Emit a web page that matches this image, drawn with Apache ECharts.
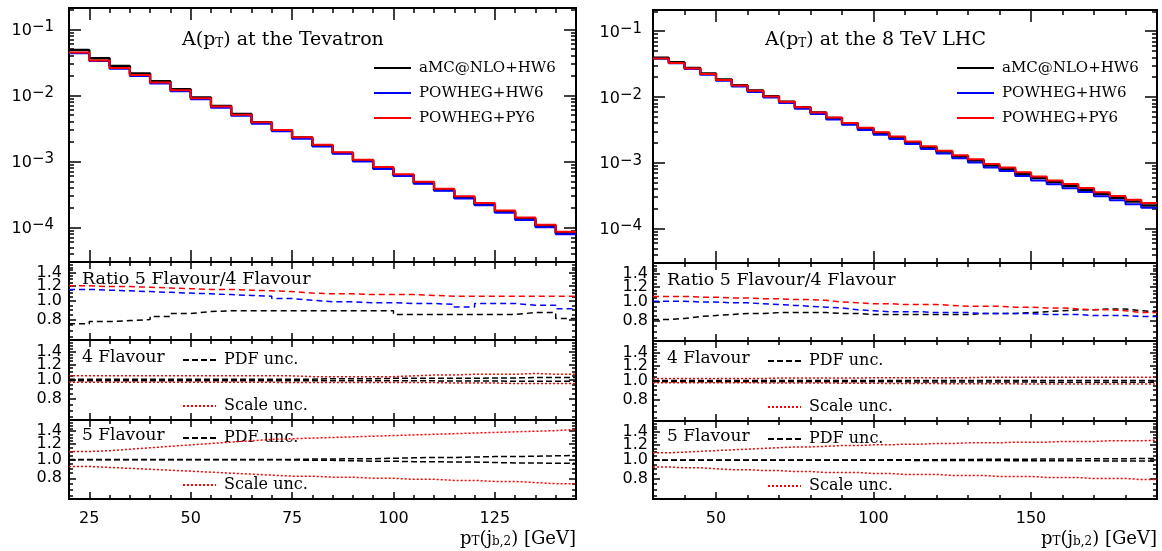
<!DOCTYPE html>
<html><head><meta charset="utf-8">
<script src="https://cdn.jsdelivr.net/npm/echarts@6/dist/echarts.min.js"></script>
<style>html,body{margin:0;padding:0;background:#fff}#c{width:1162px;height:551px}</style>
</head><body><div id="c"></div>
<script>
// ---------------- data ----------------
const tevEdges = [20,25,30,35,40,45,50,55,60,65,70,75,80,85,90,95,100,105,110,115,120,125,130,135,140,145];
const lhcEdges = [30,35,40,45,50,55,60,65,70,75,80,85,90,95,100,105,110,115,120,125,130,135,140,145,150,155,160,165,170,175,180,185,190];

const tevXMajor = [25,50,75,100,125];
const tevXMinor = [20,25,30,35,40,45,50,55,60,65,70,75,80,85,90,95,100,105,110,115,120,125,130,135,140,145];
const lhcXMajor = [50,100,150];
const lhcXMinor = [30,40,50,60,70,80,90,100,110,120,130,140,150,160,170,180,190];
const mainYMajor = [1e-4,1e-3,1e-2,1e-1];
const mainYMinor = [4e-5,5e-5,6e-5,7e-5,8e-5,9e-5,2e-4,3e-4,4e-4,5e-4,6e-4,7e-4,8e-4,9e-4,2e-3,3e-3,4e-3,5e-3,6e-3,7e-3,8e-3,9e-3,2e-2,3e-2,4e-2,5e-2,6e-2,7e-2,8e-2,9e-2,2e-1];
const ratioYMajor = [0.8,1.0,1.2,1.4];
const ratioLabelsA = [1.0,1.4];
const ratioLabelsB = [0.8,1.2];
const ratioYMinor = [0.65,0.7,0.75,0.85,0.9,0.95,1.05,1.1,1.15,1.25,1.3,1.35,1.45,1.5,1.55];

// Tevatron A(pT)
const tevAMC   = [0.0485,0.0363,0.0277,0.0215,0.0164,0.0124,0.0093,0.0069,0.0052,0.0039,0.00297,0.0023,0.00174,0.00134,0.00103,0.00079,0.000615,0.00047,0.000368,0.000282,0.000223,0.000173,0.000135,0.000105,0.000083];
const tevPwgHW = [0.0435,0.033,0.0253,0.0197,0.0151,0.0115,0.0087,0.0065,0.0049,0.0037,0.00285,0.0022,0.00168,0.0013,0.001,0.00077,0.0006,0.00046,0.00036,0.000275,0.000217,0.000167,0.00013,0.000101,0.000079];
const tevPwgPY = [0.0445,0.0337,0.026,0.0203,0.0156,0.0119,0.009,0.0068,0.0051,0.0039,0.003,0.00233,0.00178,0.00137,0.00106,0.00082,0.00064,0.00049,0.000385,0.000297,0.000235,0.000181,0.000141,0.00011,0.000086];
// Tevatron ratio 5F/4F
const tevRatioAMC = [0.76,0.78,0.79,0.80,0.83,0.86,0.88,0.89,0.89,0.89,0.89,0.89,0.89,0.89,0.89,0.89,0.85,0.85,0.85,0.85,0.85,0.85,0.87,0.87,0.81];
const tevRatioHW  = [1.15,1.14,1.13,1.12,1.11,1.10,1.09,1.08,1.07,1.06,1.03,1.01,0.99,0.99,0.98,0.98,0.97,0.97,0.96,0.93,0.97,0.97,0.95,0.95,0.91];
const tevRatioPY  = [1.20,1.19,1.19,1.18,1.17,1.16,1.15,1.15,1.14,1.13,1.12,1.10,1.09,1.09,1.08,1.08,1.08,1.07,1.06,1.06,1.06,1.06,1.06,1.06,1.06];
// Tevatron 4 flavour uncertainties
const tev4PdfUp   = [1.01,1.01,1.01,1.01,1.01,1.01,1.01,1.01,1.01,1.01,1.01,1.01,1.015,1.015,1.015,1.02,1.02,1.02,1.02,1.02,1.025,1.025,1.03,1.03,1.03];
const tev4PdfDn   = [0.992,0.992,0.992,0.992,0.992,0.992,0.992,0.992,0.992,0.992,0.99,0.99,0.99,0.99,0.99,0.99,0.99,0.99,0.988,0.988,0.988,0.986,0.986,0.985,0.985];
const tev4ScaleUp = [1.05,1.05,1.05,1.05,1.05,1.05,1.05,1.05,1.05,1.05,1.05,1.04,1.04,1.04,1.04,1.04,1.05,1.06,1.06,1.07,1.07,1.07,1.08,1.07,1.07];
const tev4ScaleDn = [0.973,0.973,0.973,0.973,0.973,0.973,0.973,0.973,0.973,0.973,0.97,0.97,0.97,0.97,0.97,0.97,0.97,0.97,0.965,0.965,0.965,0.96,0.96,0.96,0.96];
// Tevatron 5 flavour uncertainties
const tev5PdfUp   = [1.0,1.0,1.0,1.0,1.0,1.0,1.0,1.0,1.0,1.0,1.0,1.005,1.005,1.01,1.01,1.015,1.02,1.025,1.025,1.03,1.035,1.035,1.04,1.045,1.05];
const tev5PdfDn   = [0.998,0.998,0.998,0.998,0.998,0.998,0.998,0.998,0.998,0.998,0.995,0.99,0.99,0.985,0.98,0.98,0.975,0.975,0.97,0.97,0.965,0.96,0.96,0.955,0.955];
const tev5ScaleUp = [1.10,1.11,1.13,1.15,1.17,1.19,1.21,1.23,1.25,1.27,1.28,1.29,1.30,1.31,1.32,1.33,1.34,1.35,1.36,1.37,1.38,1.39,1.40,1.41,1.43];
const tev5ScaleDn = [0.92,0.91,0.90,0.89,0.88,0.87,0.86,0.85,0.84,0.83,0.82,0.82,0.81,0.81,0.80,0.80,0.79,0.79,0.78,0.78,0.77,0.77,0.76,0.75,0.75];

// LHC 8 TeV A(pT)
const lhcAMC   = [0.0394,0.0338,0.0277,0.0227,0.0184,0.0151,0.0125,0.01025,0.0085,0.00697,0.00579,0.00481,0.00398,0.00334,0.00284,0.00244,0.00205,0.00172,0.00148,0.00125,0.00108,0.000913,0.000804,0.000682,0.000586,0.00051,0.000448,0.00039,0.000335,0.000294,0.000258,0.000225];
const lhcPwgHW = [0.038,0.0325,0.0266,0.0218,0.0176,0.0144,0.0119,0.0098,0.0081,0.00665,0.00551,0.00457,0.00378,0.00316,0.00268,0.0023,0.00193,0.00162,0.00139,0.00117,0.00101,0.00085,0.00075,0.00063,0.00054,0.00047,0.00041,0.00036,0.00031,0.00027,0.000235,0.000208];
const lhcPwgPY = [0.0385,0.033,0.0271,0.0223,0.0181,0.0149,0.0124,0.0102,0.0085,0.0070,0.00583,0.00486,0.00404,0.0034,0.0029,0.0025,0.00211,0.00178,0.00153,0.0013,0.00113,0.00096,0.00085,0.00072,0.00062,0.00054,0.000475,0.000415,0.000357,0.000313,0.000275,0.000245];
// LHC ratio 5F/4F
const lhcRatioAMC = [0.81,0.82,0.84,0.85,0.86,0.87,0.87,0.88,0.88,0.88,0.88,0.87,0.87,0.86,0.86,0.86,0.86,0.86,0.86,0.86,0.87,0.87,0.87,0.88,0.89,0.90,0.91,0.91,0.92,0.92,0.90,0.89];
const lhcRatioHW  = [1.01,1.01,1.00,1.00,0.99,0.99,0.98,0.97,0.96,0.95,0.94,0.93,0.91,0.90,0.89,0.89,0.89,0.88,0.88,0.88,0.87,0.87,0.87,0.87,0.86,0.86,0.86,0.85,0.85,0.85,0.84,0.84];
const lhcRatioPY  = [1.07,1.07,1.06,1.06,1.05,1.05,1.04,1.04,1.03,1.03,1.02,1.00,0.99,0.98,0.98,0.97,0.97,0.97,0.96,0.95,0.95,0.95,0.94,0.94,0.93,0.93,0.92,0.91,0.91,0.90,0.88,0.88];
// LHC 4 flavour uncertainties
const lhc4PdfUp   = [1.005,1.005,1.005,1.005,1.005,1.005,1.005,1.005,1.005,1.005,1.005,1.005,1.005,1.005,1.005,1.005,1.005,1.005,1.005,1.005,1.005,1.005,1.005,1.005,1.005,1.005,1.005,1.005,1.005,1.005,1.005,1.005];
const lhc4PdfDn   = [0.99,0.99,0.99,0.99,0.99,0.99,0.99,0.99,0.99,0.99,0.99,0.99,0.99,0.99,0.99,0.99,0.988,0.988,0.988,0.988,0.988,0.988,0.988,0.988,0.986,0.986,0.986,0.986,0.986,0.986,0.986,0.986];
const lhc4ScaleUp = [1.03,1.03,1.03,1.03,1.03,1.03,1.03,1.035,1.035,1.035,1.035,1.035,1.035,1.04,1.04,1.04,1.04,1.04,1.04,1.04,1.045,1.045,1.045,1.045,1.045,1.045,1.045,1.045,1.045,1.045,1.045,1.045];
const lhc4ScaleDn = [0.98,0.98,0.98,0.98,0.98,0.98,0.978,0.978,0.978,0.976,0.976,0.975,0.974,0.973,0.972,0.971,0.97,0.97,0.969,0.968,0.968,0.967,0.967,0.966,0.966,0.965,0.965,0.965,0.964,0.964,0.964,0.964];
// LHC 5 flavour uncertainties
const lhc5PdfUp   = [1.0,1.0,1.0,1.0,1.0,1.0,1.0,1.0,1.0,1.0,1.0,1.0,1.0,1.0,1.002,1.002,1.004,1.004,1.006,1.006,1.008,1.008,1.01,1.01,1.012,1.012,1.014,1.014,1.016,1.016,1.018,1.02];
const lhc5PdfDn   = [0.998,0.998,0.998,0.998,0.998,0.998,0.998,0.998,0.998,0.998,0.998,0.998,0.998,0.998,0.996,0.996,0.995,0.995,0.994,0.994,0.993,0.993,0.992,0.992,0.991,0.991,0.99,0.99,0.989,0.988,0.987,0.986];
const lhc5ScaleUp = [1.09,1.10,1.11,1.12,1.13,1.14,1.15,1.16,1.17,1.17,1.18,1.19,1.19,1.20,1.20,1.21,1.21,1.22,1.22,1.23,1.23,1.23,1.24,1.24,1.24,1.25,1.25,1.25,1.26,1.26,1.26,1.27];
const lhc5ScaleDn = [0.92,0.91,0.91,0.90,0.89,0.89,0.88,0.88,0.87,0.87,0.86,0.86,0.86,0.85,0.85,0.84,0.84,0.84,0.83,0.83,0.83,0.82,0.82,0.82,0.81,0.81,0.81,0.80,0.80,0.80,0.79,0.79];

// ---------------- layout ----------------
const SERIF = 'DejaVu Serif';
const SANS = 'DejaVu Sans';
const BLACK = '#000000', BLUE = '#0000ff', RED = '#ff0000';

const panels = [
  { left:69, width:507, tops:[8,262,340,420], hs:[254,78,80,79], xmin:20, xmax:145, xMajor:tevXMajor, xMinor:tevXMinor, edges:tevEdges, lblMain:15, lblRatio:7,
    main:[tevAMC,tevPwgHW,tevPwgPY], ratio:[tevRatioAMC,tevRatioHW,tevRatioPY],
    f4:[tev4PdfUp,tev4PdfDn,tev4ScaleUp,tev4ScaleDn], f5:[tev5PdfUp,tev5PdfDn,tev5ScaleUp,tev5ScaleDn],
    title:'{n|A(p}{sub|T}{n|) at the Tevatron}', titleX:182, textX:82, legX:373, uncX:182 },
  { left:653, width:504, tops:[10,263,341,421], hs:[253,78,80,78], xmin:30, xmax:190, xMajor:lhcXMajor, xMinor:lhcXMinor, edges:lhcEdges, lblMain:11, lblRatio:5,
    main:[lhcAMC,lhcPwgHW,lhcPwgPY], ratio:[lhcRatioAMC,lhcRatioHW,lhcRatioPY],
    f4:[lhc4PdfUp,lhc4PdfDn,lhc4ScaleUp,lhc4ScaleDn], f5:[lhc5PdfUp,lhc5PdfDn,lhc5ScaleUp,lhc5ScaleDn],
    title:'{n|A(p}{sub|T}{n|) at the 8 TeV LHC}', titleX:765, textX:667, legX:956, uncX:767 }
];

const grid = [], xAxis = [], yAxis = [], series = [], title = [], legend = [];
const tickLine = { color:'#000', width:1.5 };

function stepData(edges, vals) {
  const d = vals.map((v, i) => [edges[i], v]);
  d.push([edges[vals.length], vals[vals.length - 1]]);
  return d;
}

function addGrid(p, k) {
  const gi = grid.length;
  grid.push({ left:p.left, top:p.tops[k], width:p.width, height:p.hs[k], show:true,
    borderColor:'#000', borderWidth:2, backgroundColor:'rgba(0,0,0,0)', containLabel:false, outerBoundsMode:'none' });
  const isMain = k === 0;
  const majLen = isMain ? 12 : 7, minLen = isMain ? 5 : 4;
  const xi = xAxis.length;
  ['bottom','top'].forEach(pos => {
    const base = { type:'value', gridIndex:gi, position:pos, min:p.xmin, max:p.xmax,
      axisLine:{show:false, onZero:false}, splitLine:{show:false} };
    xAxis.push(Object.assign({}, base, {
      axisTick:{ show:true, inside:true, length:majLen, customValues:p.xMajor, lineStyle:tickLine },
      axisLabel:{ show:(k === 3 && pos === 'bottom'), customValues:p.xMajor, margin:12, color:'#000', fontFamily:SANS, fontSize:16,
        showMinLabel:true, showMaxLabel:true }
    }));
    xAxis.push(Object.assign({}, base, {
      axisTick:{ show:true, inside:true, length:minLen, customValues:p.xMinor, lineStyle:tickLine },
      axisLabel:{ show:false }
    }));
  });
  const yi = yAxis.length;
  const ymin = isMain ? 3e-5 : 0.625, ymax = isMain ? 0.21 : 1.6;
  const yMin = isMain ? mainYMinor : ratioYMinor;
  ['left','right'].forEach(pos => {
    const base = { type:'log', logBase:10, gridIndex:gi, position:pos, min:ymin, max:ymax,
      axisLine:{show:false}, splitLine:{show:false}, minorTick:{show:false} };
    const ratioLbl = vals => ({
        show:pos === 'left', customValues:vals, margin:p.lblRatio, color:'#000', fontFamily:SANS, fontSize:16,
        showMinLabel:true, showMaxLabel:true, hideOverlap:false,
        formatter: v => v.toFixed(1)
      });
    const lblA = isMain ? {
        show:pos === 'left', customValues:mainYMajor, margin:p.lblMain, showMinLabel:true, showMaxLabel:true,
        formatter: v => '{b|10}{s|\u2212' + Math.round(-Math.log10(v)) + '}',
        rich:{ b:{ fontFamily:SANS, fontSize:16, color:'#000', lineHeight:19, verticalAlign:'bottom' },
               s:{ fontFamily:SANS, fontSize:15, color:'#000', lineHeight:14, verticalAlign:'top' } }
      } : ratioLbl(ratioLabelsA);
    const lblB = isMain ? { show:false } : ratioLbl(ratioLabelsB);
    yAxis.push(Object.assign({}, base, {
      axisTick:{ show:true, inside:true, length:majLen, customValues:isMain ? mainYMajor : ratioYMajor, lineStyle:tickLine },
      axisLabel: lblA
    }));
    yAxis.push(Object.assign({}, base, {
      axisTick:{ show:true, inside:true, length:minLen, customValues:yMin, lineStyle:tickLine },
      axisLabel: lblB
    }));
  });
  return { xi, yi };
}

function addLine(ax, name, edges, vals, color, width, type, z) {
  series.push({ type:'line', name, xAxisIndex:ax.xi, yAxisIndex:ax.yi, data:stepData(edges, vals), step:'end',
    symbol:'none', color, lineStyle:{ color, width, type }, z, animation:false, silent:true });
}

const richTitle = {
  n:{ fontFamily:SERIF, fontSize:19, fontWeight:'normal', color:'#000', lineHeight:19, verticalAlign:'top' },
  sub:{ fontFamily:SERIF, fontSize:12, fontWeight:'normal', color:'#000', lineHeight:12, padding:[11,0,0,0], verticalAlign:'bottom' }
};
const richAxis = {
  n:{ fontFamily:SERIF, fontSize:18, fontWeight:'normal', color:'#000', lineHeight:18, verticalAlign:'top' },
  sub:{ fontFamily:SERIF, fontSize:12, fontWeight:'normal', color:'#000', lineHeight:12, padding:[10,0,0,0], verticalAlign:'bottom' }
};
const plain = { fontFamily:SERIF, fontSize:17.5, fontWeight:'normal', color:'#000' };
const plainF = { fontFamily:SERIF, fontSize:17, fontWeight:'normal', color:'#000' };

panels.forEach((p, pi) => {
  const gMain = addGrid(p, 0), gRatio = addGrid(p, 1), g4 = addGrid(p, 2), g5 = addGrid(p, 3);
  // main histograms
  addLine(gMain, 'aMC@NLO+HW6', p.edges, p.main[0], BLACK, 2.5, 'solid', 3);
  addLine(gMain, 'POWHEG+HW6', p.edges, p.main[1], BLUE, 2, 'solid', 4);
  addLine(gMain, 'POWHEG+PY6', p.edges, p.main[2], RED, 2, 'solid', 5);
  // ratio
  addLine(gRatio, 'aMC@NLO+HW6 5F/4F', p.edges, p.ratio[0], BLACK, 1.5, [6,4], 3);
  addLine(gRatio, 'POWHEG+HW6 5F/4F', p.edges, p.ratio[1], BLUE, 1.5, [6,4], 4);
  addLine(gRatio, 'POWHEG+PY6 5F/4F', p.edges, p.ratio[2], RED, 1.5, [6,4], 5);
  // 4 flavour
  addLine(g4, 'PDF unc.', p.edges, p.f4[0], BLACK, 1.5, [6,3], 3);
  addLine(g4, 'PDF unc.', p.edges, p.f4[1], BLACK, 1.5, [6,3], 3);
  addLine(g4, 'Scale unc.', p.edges, p.f4[2], RED, 1.5, [2,2], 4);
  addLine(g4, 'Scale unc.', p.edges, p.f4[3], RED, 1.5, [2,2], 4);
  // 5 flavour
  addLine(g5, 'PDF unc.', p.edges, p.f5[0], BLACK, 1.5, [6,3], 3);
  addLine(g5, 'PDF unc.', p.edges, p.f5[1], BLACK, 1.5, [6,3], 3);
  addLine(g5, 'Scale unc.', p.edges, p.f5[2], RED, 1.5, [2,2], 4);
  addLine(g5, 'Scale unc.', p.edges, p.f5[3], RED, 1.5, [2,2], 4);

  // texts
  title.push({ text:p.title, left:p.titleX, top:31, padding:0, textStyle:{ fontWeight:'normal', rich:richTitle } });
  title.push({ text:'Ratio 5 Flavour/4 Flavour', left:p.textX, top:p.tops[1] + 8, padding:0, textStyle:plain });
  title.push({ text:'4 Flavour', left:p.textX, top:p.tops[2] + 9, padding:0, textStyle:plainF });
  title.push({ text:'5 Flavour', left:p.textX, top:p.tops[3] + 7, padding:0, textStyle:plainF });
  title.push({ text:'{n|p}{sub|T}{n|(j}{sub|b,2}{n|) [GeV]}', right:1162 - (p.left + p.width), top:530, padding:0, textStyle:{ fontWeight:'normal', rich:richAxis } });

  // legends
  legend.push({ data:['aMC@NLO+HW6','POWHEG+HW6','POWHEG+PY6'], orient:'vertical', left:p.legX, top:60,
    itemWidth:37, itemHeight:14, itemGap:9, selectedMode:false, padding:0, itemStyle:{ opacity:0 },
    textStyle:{ fontFamily:SERIF, fontSize:15, color:'#000', lineHeight:16, padding:[0,0,0,3] } });
  const uncLeg = (name, top) => ({ data:[name], orient:'horizontal', left:p.uncX, top,
    itemWidth:33, itemHeight:14, selectedMode:false, padding:0, itemStyle:{ opacity:0 },
    textStyle:{ fontFamily:SERIF, fontSize:16, color:'#000', padding:[0,0,0,3] } });
  legend.push(uncLeg('PDF unc.', p.tops[2] + 12));
  legend.push(uncLeg('Scale unc.', p.tops[2] + 58));
  legend.push(uncLeg('PDF unc.', p.tops[3] + 10));
  legend.push(uncLeg('Scale unc.', p.tops[3] + 57));
});

const chart = echarts.init(document.getElementById('c'), null, { renderer:'canvas' });
chart.setOption({ backgroundColor:'#fff', animation:false, grid, xAxis, yAxis, series, title, legend, tooltip:{ show:false } });
</script>
</body></html>
